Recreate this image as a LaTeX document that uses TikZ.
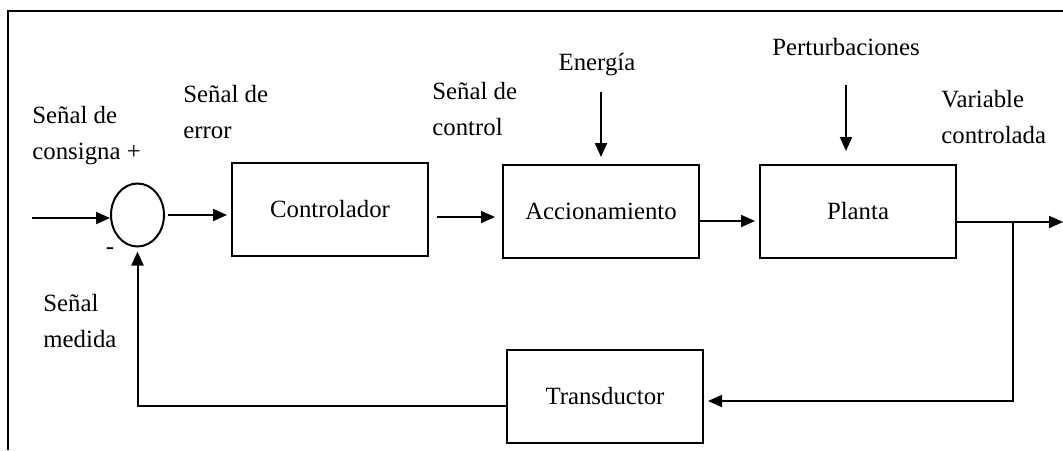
\documentclass[tikz,border=0pt]{standalone}
\usepackage{fontspec}
\setmainfont{Liberation Serif}
\usetikzlibrary{arrows.meta,shapes.geometric}
\begin{document}
\begin{tikzpicture}[x=0.5pt,y=-0.5pt,
  line/.style={line width=1pt},
  arr/.style={line width=1pt,-{Triangle[length=7pt,width=6pt]}},
  blk/.style={draw,line width=1pt,rectangle,inner sep=0pt,minimum width=98pt,minimum height=46.5pt,font=\fontsize{12.4}{18}\selectfont},
  lbl/.style={inner sep=0pt,align=left,anchor=base west,font=\fontsize{12.4}{18}\selectfont},
  clbl/.style={inner sep=0pt,anchor=base,font=\fontsize{12.4}{18}\selectfont}]
\useasboundingbox (0,0) rectangle (1063,450);
% frame
\draw[line] (8,450) -- (8,11) -- (1063,11);
% blocks
\node[draw,ellipse,line width=1pt,inner sep=0pt,minimum width=26.5pt,minimum height=31.5pt] (sum) at (137.5,215) {};
\node[blk] (ctrl) at (330,209.5) {Controlador};
\node[blk] (acc) at (601,211.5) {Accionamiento};
\node[blk] (planta) at (858,211.5) {Planta};
\node[blk] (trans) at (605,396.5) {Transductor};
% labels (anchor = baseline of the last line)
\node[lbl] (lcons) at (32,159) {Señal de\\consigna +};
\node[lbl] (lerr) at (183,138) {Señal de\\error};
\node[lbl] (lctl) at (432,135) {Señal de\\control};
\node[clbl] (len) at (597,70) {Energía};
\node[clbl] (lper) at (846,55) {Perturbaciones};
\node[lbl] (lvar) at (941,143) {Variable\\controlada};
\node[lbl] (lmed) at (43,347) {Señal\\medida};
\node[inner sep=0pt,font=\fontsize{12.4}{18}\selectfont] (minus) at (110,251) {-};
% coordinates
\coordinate (in) at (32,218);
\coordinate (out) at (1063,222);
\coordinate (br) at (1013,222);
\coordinate (fb) at (1013,401);
\coordinate (e1) at (601,92);
\coordinate (p1) at (846,85);
% connectors
\draw[arr] (in) -- (in -| sum.west);
\draw[arr,shorten <=1.5pt,shorten >=2pt] (sum.east) -- (sum.east -| ctrl.west);
\draw[arr,shorten <=4pt,shorten >=3.5pt] ([yshift=-3.75pt]ctrl.east) -- ([yshift=-2.75pt]acc.west);
\draw[arr,shorten >=2pt] ([yshift=-4.75pt]acc.east) -- ([yshift=-4.75pt]planta.west);
\draw[arr] ([yshift=-5.25pt]planta.east) -- (out);
\draw[arr,shorten >=2pt] (br) -- (fb) -- (fb -| trans.east);
\draw[arr,shorten >=2pt] ([yshift=-4.75pt]trans.west) -- ([yshift=-4.75pt]trans.west -| sum.south) -- (sum.south);
\draw[arr,shorten >=3.5pt] (e1) -- (e1 |- acc.north);
\draw[arr,shorten >=6.5pt] (p1) -- (p1 |- planta.north);
\end{tikzpicture}
\end{document}
